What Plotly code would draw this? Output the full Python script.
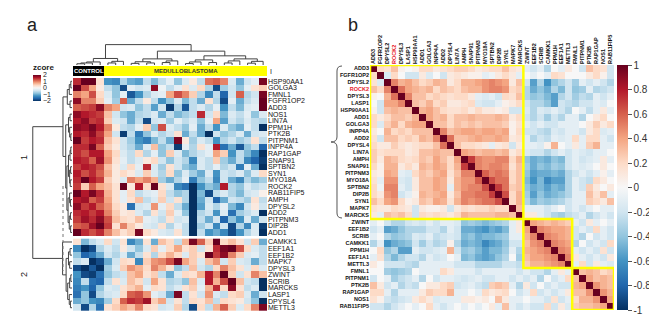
import plotly.graph_objects as go

W, H = 657, 320

# ---------------- Panel a data ----------------
genes_a = ["HSP90AA1", "GOLGA3", "FMNL1", "FGFR1OP2", "ADD3", "NOS1", "LIN7A", "PPM1H",
           "PTK2B", "PITPNM1", "INPP4A", "RAP1GAP", "SNAP91", "SPTBN2", "SYN1", "MYO18A",
           "ROCK2", "RAB11FIP5", "AMPH", "DPYSL2", "ADD2", "PITPNM3", "DIP2B", "ADD1",
           "CAMKK1", "EEF1A1", "EEF1B2", "MAPK7", "DPYSL3", "ZWINT", "SCRIB", "MARCKS",
           "LASP1", "DPYSL4", "METTL3"]
cluster1_size = 24
samples_a = ["CONTROL"] * 4 + ["MEDULLOBLASTOMA"] * 21

zscore = [
    [1.5, 2.2, 2.0, 0.3, -1.2, -1.3, -0.6, -1.0, -1.1, -0.5, -0.9, -0.5, -0.2, -0.8, -0.3, 0.2, -0.5, 1.1, 1.2, 1.0, -0.3, -1.0, -0.4, -0.2, 1.9],
    [2.0, 1.3, 0.8, 0.2, -0.5, -0.8, -1.8, -0.2, -0.4, -0.3, 1.8, -0.1, -0.5, -0.2, 0.3, -0.3, 0.4, -0.6, -1.8, -0.7, -0.4, -0.8, -0.2, 0.3, 0.5],
    [1.0, 0.8, 1.3, 0.4, -0.3, -0.8, -0.2, -1.7, -1.2, -0.6, -0.3, -0.2, 0.8, 1.3, 1.0, 0.5, -0.6, -1.3, -0.5, -1.6, -0.4, 1.2, -0.6, -0.4, 1.9],
    [1.8, 1.0, 1.0, 0.5, -0.2, -0.7, 1.2, -1.0, -0.5, 0.2, -0.5, -1.2, -0.8, -0.3, -0.9, -0.5, -1.0, 0.3, -0.6, -1.8, -0.2, -1.0, -0.5, -0.3, 2.0],
    [1.2, 1.3, 1.4, 1.8, 1.0, 0.8, -0.4, -0.3, -0.8, -0.5, -1.1, -0.4, -1.9, -0.6, -1.7, -0.5, -0.3, -0.6, -0.2, -1.2, -0.5, -0.9, -0.3, -0.2, 2.1],
    [1.8, 1.6, 1.5, 1.4, 0.6, -0.4, -0.8, -1.0, -0.6, -0.5, -0.3, -1.0, -0.5, -0.9, -0.7, -0.5, 1.5, -0.4, 0.4, -0.9, -0.3, -0.5, -0.2, -0.8, -0.3],
    [1.6, 1.8, 1.4, 1.5, 0.5, -0.3, -0.4, -1.0, -0.5, -1.8, -0.4, -0.3, -0.7, -0.2, -0.5, -0.3, -0.8, -0.2, 0.8, -1.1, -0.4, -0.6, -0.3, -0.5, -0.6],
    [1.8, 1.7, 1.9, 1.6, 1.0, 0.2, -0.5, -0.6, -0.2, 0.5, -0.8, 1.3, -0.3, -0.5, -0.8, -0.2, -1.0, -0.5, -1.2, -0.3, -0.8, -1.0, -0.2, -0.5, -2.0],
    [1.6, 1.5, 1.8, 1.4, 0.8, -0.4, -1.9, -0.5, -1.4, -0.8, -0.3, -0.6, -0.4, 0.3, -1.0, -0.5, -1.0, -2.0, -0.4, -0.8, -0.6, -0.3, -1.0, -0.4, -0.3],
    [2.0, 1.4, 1.6, 1.5, 0.6, 0.3, -0.4, -0.7, -1.2, -1.4, -0.9, -0.5, -1.0, 1.9, 0.2, -0.7, -0.3, -0.5, -1.2, -0.6, -0.4, -0.7, -0.5, 0.3, -0.5],
    [1.5, 1.5, 1.9, 1.2, 0.5, 0.2, -0.4, -0.6, -1.0, -0.3, 0.6, -0.8, -0.5, -1.9, -0.2, -0.6, 0.3, -0.2, 1.6, -1.5, -1.0, -1.7, -0.8, -0.5, -1.6],
    [1.5, 1.3, 1.6, 1.6, 0.8, 0.4, -0.3, -0.5, 0.4, -0.6, -0.2, -0.8, 0.5, -0.3, -0.9, -0.6, -0.4, -0.2, 0.8, 0.5, -1.2, -0.5, -0.9, -1.3, -2.0],
    [1.6, 1.5, 1.2, 1.7, 0.9, 0.3, -0.2, -0.5, -0.3, 0.2, 0.4, -0.4, -0.8, -0.4, -0.6, -1.3, -0.3, -0.5, 0.5, -0.7, -1.0, -0.5, -1.3, -1.6, -1.9],
    [1.4, 1.6, 1.5, 1.3, 0.6, 0.2, -0.3, 0.4, -0.2, 1.5, -0.3, -0.7, 0.3, -0.4, -0.8, -1.0, -0.3, -0.5, -0.2, -0.6, -0.4, -1.4, -0.2, -1.0, -2.1],
    [1.6, 1.3, 1.5, 1.2, 0.7, 0.2, 0.4, 0.2, -0.3, 0.5, -0.3, -0.6, 0.4, -0.8, -0.3, -0.7, -1.0, -0.3, -1.2, -0.4, -0.5, -0.3, -0.8, -0.3, 0.4],
    [1.5, 2.1, 1.6, 1.4, 0.5, 0.2, -0.3, 1.0, 0.8, 1.0, 0.7, -0.7, -1.0, -0.6, -0.2, -1.4, -0.8, -0.5, -1.3, -0.4, -1.0, -1.3, -0.6, -0.9, -0.7],
    [1.4, 0.5, 1.2, 0.8, 0.6, 0.3, 2.0, 0.2, 1.6, 0.4, 2.2, 0.3, -0.3, -1.3, -1.5, -2.1, -1.2, -0.8, -1.0, 1.6, -0.6, -0.8, -0.3, -0.5, -0.4],
    [2.0, 1.6, 1.9, 1.5, 0.7, 0.3, -0.2, 0.4, -0.5, -0.3, -0.2, 0.4, -0.5, -0.8, -0.6, -2.1, -0.9, -1.8, -0.5, -0.3, -0.6, -0.9, -0.4, -0.3, 0.1],
    [1.6, 1.7, 1.2, 1.4, 0.8, 0.3, -0.2, 0.3, 0.6, -0.5, -0.3, 0.5, -0.4, 0.3, -0.6, -2.0, -1.0, -0.4, -1.6, -1.0, -0.4, -0.5, -0.7, 0.3, -0.5],
    [1.8, 1.4, 1.6, 1.2, 0.9, 0.4, 0.2, -1.5, -0.4, -0.3, 0.9, -0.2, 0.4, -0.5, -1.0, -2.0, -1.1, -0.3, -0.6, -0.2, -0.9, -1.3, -0.4, 0.2, -0.4],
    [1.5, 1.6, 1.4, 1.6, 1.0, 0.5, 0.2, 0.3, -0.3, -0.6, 0.3, -0.4, 0.5, -0.2, -0.8, -2.1, -0.6, -0.4, -1.2, -0.3, -1.5, -0.7, -0.5, -0.3, -2.1],
    [1.4, 1.7, 1.5, 1.8, 1.3, 0.6, 0.4, 0.3, 0.6, -0.2, -0.3, -0.5, 0.3, -0.4, -0.3, -2.0, -0.5, -1.0, -0.4, -1.6, -0.8, -1.2, -0.3, -1.0, -0.4],
    [1.2, 1.3, 1.7, 2.2, 1.4, 0.3, 1.0, 0.5, 0.2, -0.3, -0.4, 0.3, -0.6, -0.2, -0.5, -2.0, -0.7, -0.4, -1.3, -0.4, -1.8, -0.6, -1.3, -0.3, -1.9],
    [2.0, 1.5, 1.3, 1.5, 1.0, 0.6, 0.3, 0.5, 1.9, 0.4, 0.2, -0.3, -0.4, 0.3, -0.5, -2.0, -0.5, -1.2, -1.0, -1.3, -1.8, -1.2, -0.6, -0.3, -2.0],
    [0.3, -0.9, -0.5, -0.3, 0.4, -0.4, 0.3, -1.3, -1.0, 0.3, -1.0, 0.6, 0.4, -0.5, 0.7, 1.9, 1.2, 0.5, 2.0, 0.4, 0.6, 0.3, -0.4, 0.5, -1.0],
    [-1.3, -2.0, -1.8, -0.6, -0.3, -0.5, 0.2, -0.4, -0.8, -0.3, 0.5, -0.2, 0.4, 0.8, 0.3, 0.5, -0.4, 0.3, 1.5, 1.9, 2.0, 1.3, 0.4, -0.3, -0.5],
    [-0.8, -1.6, -1.4, -1.0, -0.4, -0.6, -0.3, -1.0, -0.5, 0.3, -0.6, 0.4, 0.7, 0.4, -0.3, 0.5, 0.3, 2.1, 1.4, 1.8, 1.0, 0.5, -0.3, -0.2, -0.5],
    [-0.5, -0.3, -2.0, -1.8, -1.0, -0.4, 0.4, 0.3, -1.3, 0.5, 0.9, 1.0, 1.3, 1.9, 0.8, 0.5, -0.3, 0.6, 0.9, -0.4, 0.5, -0.3, -0.4, -1.0, -0.5],
    [-1.8, -2.0, -1.7, -2.0, -0.7, -0.3, 0.5, 0.9, 0.7, 0.4, 1.0, 0.7, 0.3, -0.8, -0.5, 0.6, -0.4, -0.6, 0.4, 1.0, 0.6, 0.3, -0.3, 0.4, -0.3],
    [-1.2, -1.8, -1.9, -1.5, -0.8, -0.5, -0.4, 0.6, 0.8, 0.3, 0.5, -0.5, -1.0, -0.3, 0.4, 0.3, 0.7, 1.6, 1.0, 2.0, 0.5, -0.4, 0.3, 1.0, 0.6],
    [-1.3, -0.5, -1.5, -1.6, -0.5, 0.3, -0.3, 0.6, 0.4, -0.4, 0.8, 0.3, -0.6, -0.5, -0.8, 0.6, -0.3, 1.6, 0.7, 1.3, 2.1, 0.6, -0.4, -0.5, -2.0],
    [-1.4, -1.2, -1.6, -0.8, -0.3, -0.4, 0.3, 0.5, 0.7, -0.2, 0.4, 0.3, -0.5, -0.3, 0.3, 0.5, -0.2, 0.7, 1.5, 0.4, 1.8, 0.3, -0.5, -0.3, -2.0],
    [-1.5, -0.8, -1.8, -0.6, -0.4, -0.3, 0.4, 1.2, 1.3, 0.9, -0.2, -0.4, -1.0, 1.9, -0.5, 0.3, -0.4, 0.9, -0.3, -0.5, 0.4, 0.5, -0.3, -1.0, -0.4],
    [-1.0, -0.8, -1.2, -1.3, -0.7, 0.4, 1.2, 1.5, 1.4, 1.7, 0.5, 0.8, -0.4, 0.3, -0.5, 0.4, 0.3, 0.6, -0.5, 0.4, 0.3, 0.2, -0.4, -0.8, -2.0],
    [-0.4, -1.8, -0.6, -1.5, 0.3, 0.5, 0.8, 0.6, 1.0, 0.4, 0.3, -0.4, -0.3, 0.5, -0.6, -1.8, 0.4, -0.5, 0.7, 1.2, 0.5, -0.3, 0.4, 1.0, 1.9],
]

# Column dendrogram: (merge height, left, right); leaves are column indices
col_tree = (10.0,
            (3.2, (1.5, (1.0, (0.6, 0, 1), 2), 3), (1.8, (1.0, 4, 5), 6)),
            (6.8,
             (3.0, (1.6, (0.8, 7, 8), (1.0, 9, 10)), (2.0, (1.2, 11, 12), 13)),
             (4.5, (2.5, (1.5, (0.7, 14, 15), 16), (1.2, 17, 18)),
              (3.0, (2.0, (1.0, 19, 20), 21), (1.8, (0.9, 22, 23), 24)))))

# Row dendrogram: leaves are row indices
row_tree = (10.0,
            (2.3,
             (1.2, (0.7, (0.3, 0, 1), 2), (0.5, 3, 4)),
             (1.6,
              (0.9, (0.5, 5, 6), (0.6, 7, (0.3, 8, 9))),
              (1.3,
               (0.9, (0.5, (0.3, 10, 11), 12), (0.6, (0.35, 13, 14), (0.45, 15, 16))),
               (1.0, (0.6, 17, (0.4, 18, 19)), (0.7, (0.4, 20, 21), (0.35, 22, 23)))))),
            (2.4, 24,
             (1.5, (0.9, (0.5, 25, 26), (0.6, 27, 28)),
              (1.1, (0.6, (0.3, 29, 30), 31), (0.7, 32, (0.4, 33, 34))))))

# ---------------- Panel b data ----------------
genes_b = ["ADD3", "FGFR1OP2", "DPYSL2", "ROCK2", "DPYSL3", "LASP1", "HSP90AA1", "ADD1",
           "GOLGA3", "INPP4A", "ADD2", "DPYSL4", "LIN7A", "AMPH", "SNAP91", "PITPNM3",
           "MYO18A", "SPTBN2", "DIP2B", "SYN1", "MAPK7", "MARCKS",
           "ZWINT", "EEF1B2", "SCRIB", "CAMKK1", "PPM1H", "EEF1A1", "METTL3",
           "FMNL1", "PITPNM1", "PTK2B", "RAP1GAP", "NOS1", "RAB11FIP5"]
block_sizes = [22, 7, 6]
highlight_gene = "ROCK2"

# rows 0-21: correlation with columns 0-34 (only the upper triangle is used)
corr_rows_block1 = [
    [1, .2, .15, .3, .05, 0, .05, .2, .2, .1, .15, .2, .25, .25, .2, .1, .15, .2, .2, .3, .15, .1, -.1, -.2, -.1, -.3, 0, -.1, .1, 0, -.2, .3, .2, .15, -.2],
    [.2, 1, -.15, .2, 0, -.2, -.2, .1, -.15, 0, -.2, .1, .15, .1, .05, .05, -.1, -.05, .1, .2, .1, -.1, 0, -.1, 0, -.1, .2, .15, 0, 0, 0, .1, .2, .05, -.2],
    [.15, -.15, 1, .5, .35, .4, .3, .2, .25, .35, .3, .1, .2, .35, .35, .4, .45, .5, .45, .4, .1, .3, -.2, -.55, -.3, -.6, -.4, -.3, -.2, -.35, -.1, -.2, -.1, -.2, -.3],
    [.3, .2, .5, 1, .55, .4, .35, .3, .35, .2, .3, .25, .2, .3, .35, .35, .45, .5, .5, .45, .2, .25, -.3, -.5, -.4, -.5, -.3, -.45, -.2, -.4, -.35, -.1, -.3, -.25, -.2],
    [.05, 0, .35, .55, 1, .5, .3, .3, .2, .25, .2, .15, .2, .2, .1, -.1, -.15, -.1, -.2, .2, .15, .3, -.3, -.4, -.35, -.45, -.55, -.3, -.2, -.35, -.25, -.3, -.1, -.2, -.1],
    [0, -.2, .4, .4, .5, 1, .3, .25, .35, .2, .25, .1, .1, .15, .2, -.15, -.2, -.2, -.1, .05, .1, .2, -.2, -.3, -.3, -.4, -.55, -.2, -.25, -.3, -.2, -.2, -.1, -.15, 0],
    [.05, -.2, .3, .35, .3, .3, 1, .35, .4, .3, .2, .15, .15, .2, .1, .2, .1, .1, .05, .1, -.2, -.2, -.15, -.3, -.15, -.2, -.1, -.2, -.3, 0, -.1, -.25, -.1, .1, -.1],
    [.2, .1, .2, .3, .3, .25, .35, 1, .4, .3, .35, .2, .3, .3, .35, .3, .3, .3, .35, .3, .1, .2, -.2, -.3, -.2, -.35, -.2, -.3, -.1, -.1, -.3, 0, .1, .2, 0],
    [.2, -.15, .25, .35, .2, .35, .4, .4, 1, .3, .3, .2, .3, .25, .3, .25, .3, .3, .3, .25, .05, .15, -.1, -.2, -.1, -.2, -.2, -.1, -.1, -.1, 0, .1, .25, .1, .2],
    [.1, 0, .35, .2, .25, .2, .3, .3, .3, 1, .5, .3, .35, .4, .4, .35, .4, .4, .35, .4, .05, .2, -.2, -.2, -.25, -.3, -.15, -.2, -.1, -.1, -.2, .1, .2, -.15, -.1],
    [.15, -.2, .3, .3, .2, .25, .2, .35, .3, .5, 1, .55, .3, .3, .35, .4, .35, .35, .4, .35, .1, .15, -.1, -.3, -.2, -.25, -.1, -.15, -.1, .2, -.1, .2, .2, -.1, -.2],
    [.2, .1, .1, .25, .15, .1, .15, .2, .2, .3, .55, 1, .3, .2, .2, .15, .1, -.1, .1, .15, -.2, .1, -.1, -.1, -.15, .05, .35, 0, -.1, .1, -.1, .25, .35, -.1, -.1],
    [.25, .15, .2, .2, .2, .1, .15, .3, .3, .35, .3, .3, 1, .4, .35, .3, .35, .35, .3, .35, .1, .2, -.15, -.2, -.2, -.3, -.2, -.1, -.2, -.1, -.15, -.2, -.1, -.1, 0],
    [.25, .1, .35, .3, .2, .15, .2, .3, .25, .4, .3, .2, .4, 1, .7, .5, .45, .45, .5, .5, .2, .35, -.4, -.5, -.45, -.5, -.4, -.45, -.2, -.1, -.2, -.15, -.1, .1, -.1],
    [.2, .05, .35, .35, .1, .2, .1, .35, .3, .4, .35, .2, .35, .7, 1, .5, .45, .5, .5, .45, .15, .3, -.35, -.5, -.4, -.45, -.35, -.4, -.2, -.1, -.15, -.1, 0, .1, 0],
    [.1, .05, .4, .35, -.1, -.15, .2, .3, .25, .35, .4, .15, .3, .5, .5, 1, .6, .5, .55, .5, .2, .3, -.4, -.55, -.5, -.5, -.45, -.5, -.3, -.2, -.1, -.2, -.1, .05, -.1],
    [.15, -.1, .45, .45, -.15, -.2, .1, .3, .3, .4, .35, .1, .35, .45, .45, .6, 1, .65, .55, .55, .2, .3, -.45, -.6, -.45, -.65, -.55, -.55, -.3, -.1, -.2, -.25, .2, .1, 0],
    [.2, -.05, .5, .5, -.1, -.2, .1, .3, .3, .4, .35, -.1, .35, .45, .5, .5, .65, 1, .7, .55, .25, .3, -.4, -.5, -.45, -.55, -.45, -.5, -.3, -.1, -.2, .25, .1, 0, .1],
    [.2, .1, .45, .5, -.2, -.1, .05, .35, .3, .35, .4, .1, .3, .5, .5, .55, .55, .7, 1, .65, .2, .35, -.35, -.55, -.4, -.5, -.45, -.4, -.3, -.1, -.1, .3, .15, .3, -.1],
    [.3, .2, .4, .45, .2, .05, .1, .3, .25, .4, .35, .15, .35, .5, .45, .5, .55, .55, .65, 1, .2, .35, -.3, -.45, -.35, -.4, -.35, -.3, -.2, -.1, -.1, .25, .2, .1, .3],
    [.15, .1, .1, .2, .15, .1, -.2, .1, .05, .05, .1, -.2, .1, .2, .15, .2, .2, .25, .2, .2, 1, .3, -.1, -.1, -.1, -.2, -.1, 0, -.2, -.1, -.2, -.1, 0, -.1, -.1],
    [.1, -.1, .3, .25, .3, .2, -.2, .2, .15, .2, .15, .1, .2, .35, .3, .3, .3, .3, .35, .35, .3, 1, .1, .1, -.1, -.2, -.3, -.35, -.25, -.2, -.1, -.3, -.2, -.1, -.2],
]
# rows 22-28: correlation with columns 22-34
corr_rows_block2 = [
    [1, .4, .35, .3, .35, .3, .25, -.1, -.2, .1, -.1, 0, -.1],
    [.4, 1, .5, .45, .4, .4, .35, -.2, -.1, -.2, .2, -.1, -.2],
    [.35, .5, 1, .5, .45, .4, .35, -.2, -.3, 0, -.2, -.1, -.2],
    [.3, .45, .5, 1, .5, .45, .4, -.3, 0, -.2, -.1, -.2, .2],
    [.35, .4, .45, .5, 1, .5, .45, -.1, -.2, -.1, -.2, .15, -.2],
    [.3, .4, .4, .45, .5, 1, .5, .1, -.1, -.2, -.1, -.2, .1],
    [.25, .35, .35, .4, .45, .5, 1, -.1, .2, -.2, .1, -.1, -.15],
]
# rows 29-34: correlation with columns 29-34
corr_rows_block3 = [
    [1, .3, .35, .3, .2, .25],
    [.3, 1, .4, .3, .35, .3],
    [.35, .4, 1, .45, .35, .3],
    [.3, .3, .45, 1, .45, .35],
    [.2, .35, .35, .45, 1, .4],
    [.25, .3, .3, .35, .4, 1],
]

# ---------------- helpers ----------------
def pxx(a, b):
    return [a / W, b / W]


def pxy(top, bottom):
    return [1 - bottom / H, 1 - top / H]


def dendro(tree, pos):
    xs, ys = [], []

    def rec(node):
        if isinstance(node, int):
            return pos[node], 0.0
        h, l, r = node
        cl, hl = rec(l)
        cr, hr = rec(r)
        xs.extend([cl, cl, cr, cr, None])
        ys.extend([hl, h, h, hr, None])
        return (cl + cr) / 2, h

    rec(tree)
    return xs, ys


rdbu = ['#053061', '#2166ac', '#4393c3', '#92c5de', '#d1e5f0', '#f7f7f7',
        '#fddbc7', '#f4a582', '#d6604d', '#b2182b', '#67001f']
cscale = [[i / (len(rdbu) - 1), c] for i, c in enumerate(rdbu)]

n_genes = len(genes_a)
n_cols = len(samples_a)
gap = 0.45
row_centers = [i + 0.5 + (gap if i >= cluster1_size else 0) for i in range(n_genes)]
y_total = n_genes + gap

# build correlation matrix
n = len(genes_b)
corr = [[0.0] * n for _ in range(n)]
starts = []
s = 0
for b in block_sizes:
    starts.append(s)
    s += b
all_rows = []
for i, r in enumerate(corr_rows_block1):
    all_rows.append((i, 0, r))
for k, r in enumerate(corr_rows_block2):
    all_rows.append((starts[1] + k, starts[1], r))
for k, r in enumerate(corr_rows_block3):
    all_rows.append((starts[2] + k, starts[2], r))
for i, off, r in all_rows:
    for jj, v in enumerate(r):
        j = off + jj
        if j > i:
            corr[i][j] = v
            corr[j][i] = v
        elif j == i:
            corr[i][j] = v

fig = go.Figure()

# ---- panel a heatmap (two row clusters, separated by a gap)
fig.add_trace(go.Heatmap(z=zscore[:cluster1_size], x=list(range(n_cols)),
                         y=[float(i) for i in range(cluster1_size + 1)],
                         coloraxis="coloraxis", xaxis="x", yaxis="y", hoverinfo="skip"))
fig.add_trace(go.Heatmap(z=zscore[cluster1_size:], x=list(range(n_cols)),
                         y=[cluster1_size + gap + i for i in range(n_genes - cluster1_size + 1)],
                         coloraxis="coloraxis", xaxis="x", yaxis="y", hoverinfo="skip"))

# ---- annotation bar
grp_code = [[0 if g == "CONTROL" else 1 for g in samples_a]]
fig.add_trace(go.Heatmap(z=grp_code, x=list(range(n_cols)), y=[0], zmin=0, zmax=1,
                         colorscale=[[0, "#000000"], [0.5, "#000000"], [0.5, "#ffff00"], [1, "#ffff00"]],
                         showscale=False, xaxis="x2", yaxis="y2", hoverinfo="skip"))

# ---- dendrograms
cx, cy = dendro(col_tree, {i: i for i in range(n_cols)})
fig.add_trace(go.Scatter(x=cx, y=cy, mode="lines", line=dict(color="#444", width=1),
                         xaxis="x3", yaxis="y3", hoverinfo="skip", showlegend=False))
rx, ry = dendro(row_tree, {i: row_centers[i] for i in range(n_genes)})
fig.add_trace(go.Scatter(x=ry, y=rx, mode="lines", line=dict(color="#444", width=1),
                         xaxis="x4", yaxis="y4", hoverinfo="skip", showlegend=False))

# ---- panel b heatmap
fig.add_trace(go.Heatmap(z=corr, x=list(range(n)), y=list(range(n)),
                         coloraxis="coloraxis2", xaxis="x5", yaxis="y5", hoverinfo="skip",
                         xgap=0, ygap=0))

def lab_b(g):
    if g == highlight_gene:
        return '<b><span style="color:#e8202a">%s</span></b>' % g
    return "<b>%s</b>" % g

ticktext_b = [lab_b(g) for g in genes_b]

noax = dict(showgrid=False, zeroline=False, showticklabels=False, ticks="", showline=False)

fig.update_layout(
    width=W, height=H, margin=dict(l=0, r=0, t=0, b=0),
    paper_bgcolor="white", plot_bgcolor="white",
    font=dict(family="Liberation Sans, Arial, sans-serif", color="#000"),
    showlegend=False,
    xaxis=dict(noax, domain=pxx(65, 259), range=[-0.5, n_cols - 0.5], anchor="y"),
    yaxis=dict(noax, domain=pxy(70, 303), range=[y_total, 0], anchor="x", side="right",
               showticklabels=True, tickvals=row_centers, ticktext=genes_a,
               tickfont=dict(size=7, color="#111")),
    xaxis2=dict(noax, domain=pxx(65, 259), range=[-0.5, n_cols - 0.5], anchor="y2"),
    yaxis2=dict(noax, domain=pxy(58, 68), range=[-0.5, 0.5], anchor="x2"),
    xaxis3=dict(noax, domain=pxx(65, 259), range=[-0.5, n_cols - 0.5], anchor="y3"),
    yaxis3=dict(noax, domain=pxy(36, 57), range=[0, 10.3], anchor="x3"),
    xaxis4=dict(noax, domain=pxx(24, 64), range=[10.2, 0], anchor="y4"),
    yaxis4=dict(noax, domain=pxy(70, 303), range=[y_total, 0], anchor="x4"),
    xaxis5=dict(noax, domain=pxx(362, 606), range=[-0.5, n - 0.5], anchor="y5", side="top",
                showticklabels=True, tickvals=list(range(n)), ticktext=ticktext_b, tickangle=-90,
                tickfont=dict(size=5.5, color="#111")),
    yaxis5=dict(noax, domain=pxy(57, 302), range=[n - 0.5, -0.5], anchor="x5",
                showticklabels=True, tickvals=list(range(n)), ticktext=ticktext_b,
                tickfont=dict(size=5.5, color="#111")),
    coloraxis=dict(cmin=-2, cmax=2, colorscale=cscale,
                   colorbar=dict(x=25 / W, xanchor="left", y=1 - 73 / H, yanchor="middle",
                                 lenmode="pixels", len=40, thicknessmode="pixels", thickness=8,
                                 xpad=0, ypad=0, outlinewidth=0, ticks="",
                                 tickvals=[2, 1, 0, -1, -2], tickfont=dict(size=7, color="#222"),
                                 title=dict(text="<b>zcore</b>", side="top",
                                            font=dict(size=8, color="#222")))),
    coloraxis2=dict(cmin=-1, cmax=1, colorscale=cscale,
                    colorbar=dict(x=609 / W, xanchor="left", y=1 - 179.5 / H, yanchor="middle",
                                  lenmode="pixels", len=245, thicknessmode="pixels", thickness=11,
                                  xpad=0, ypad=0, outlinewidth=0, ticks="outside", ticklen=4,
                                  tickcolor="#555",
                                  tickvals=[1, 0.8, 0.6, 0.4, 0.2, 0, -0.2, -0.4, -0.6, -0.8, -1],
                                  ticktext=["1", "0.8", "0.6", "0.4", "0.2", "0", "-0.2", "-0.4",
                                            "-0.6", "-0.8", "-1"],
                                  tickfont=dict(size=10, color="#333"))),
)

# yellow boxes around correlation blocks
for st, sz in zip(starts, block_sizes):
    fig.add_shape(type="rect", xref="x5", yref="y5", x0=st - 0.5, x1=st + sz - 0.5,
                  y0=st - 0.5, y1=st + sz - 0.5, line=dict(color="#ffff00", width=2.5),
                  fillcolor="rgba(0,0,0,0)")

# brace to the left of panel b
def ppath(pts):
    out = []
    for cmd, *xy in pts:
        seg = cmd
        for k in range(0, len(xy), 2):
            seg += " %.5f,%.5f" % (xy[k] / W, 1 - xy[k + 1] / H)
        out.append(seg)
    return " ".join(out)

brace = ppath([("M", 334, 58), ("Q", 329, 58, 329, 63), ("L", 329, 129),
               ("Q", 329, 134, 323, 134), ("Q", 329, 134, 329, 139), ("L", 329, 205),
               ("Q", 329, 210, 334, 210)])
fig.add_shape(type="path", xref="paper", yref="paper", path=brace,
              line=dict(color="#555", width=1))

# dotted cut line beside row dendrogram
fig.add_shape(type="line", xref="paper", yref="paper", x0=55 / W, x1=55 / W,
              y0=1 - 178 / H, y1=1 - 263 / H, line=dict(color="#777", width=1, dash="dot"))

anns = [
    dict(text="a", x=24 / W, y=1 - 17 / H, font=dict(size=18, color="#222")),
    dict(text="b", x=345 / W, y=1 - 17 / H, font=dict(size=18, color="#222")),
    dict(text="1", x=16 / W, y=1 - 150 / H, font=dict(size=9, color="#222"), textangle=-90),
    dict(text="2", x=16 / W, y=1 - 267 / H, font=dict(size=9, color="#222"), textangle=-90),
    dict(text="I", x=263 / W, y=1 - 63 / H, font=dict(size=7, color="#222")),
]
for a in anns:
    fig.add_annotation(xref="paper", yref="paper", showarrow=False, xanchor="center",
                       yanchor="middle", **a)

ctrl_idx = [i for i, g in enumerate(samples_a) if g == "CONTROL"]
mb_idx = [i for i, g in enumerate(samples_a) if g != "CONTROL"]
fig.add_annotation(xref="x2", yref="y2", x=sum(ctrl_idx) / len(ctrl_idx), y=0, text="<b>CONTROL</b>",
                   showarrow=False, font=dict(size=6, color="white"))
fig.add_annotation(xref="x2", yref="y2", x=sum(mb_idx) / len(mb_idx), y=0,
                   text="<b>MEDULLOBLASTOMA</b>", showarrow=False, font=dict(size=6, color="#333"))

fig.write_html("out.html")
